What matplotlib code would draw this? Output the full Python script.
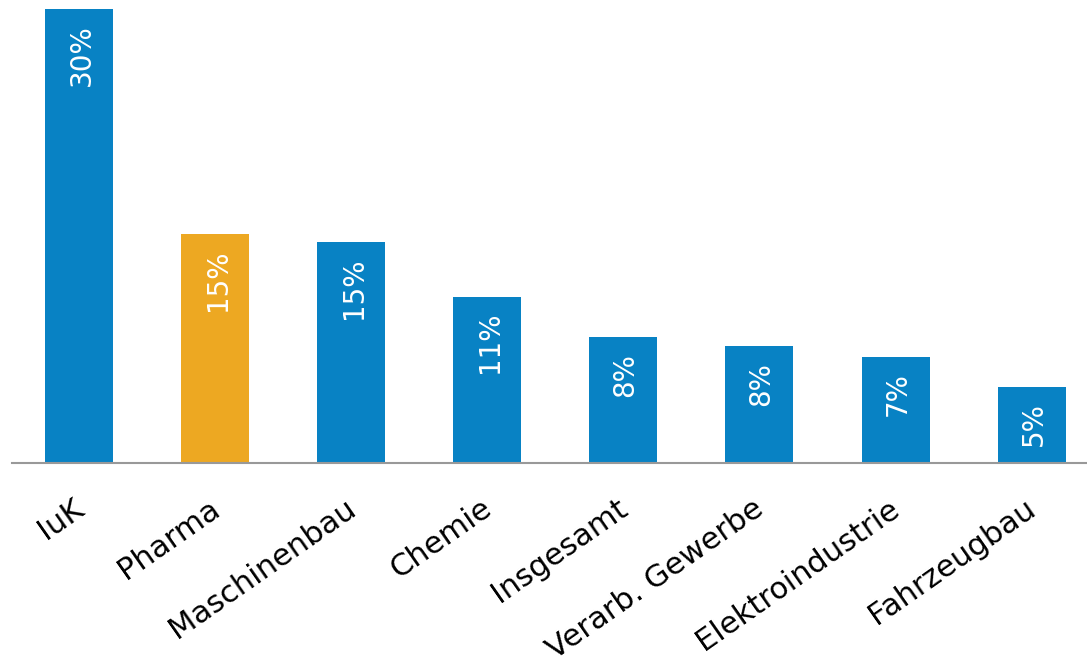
import matplotlib.pyplot as plt
import matplotlib.transforms as mtransforms
import numpy as np

# Anteile je Branche in Prozent
branchen = ["IuK", "Pharma", "Maschinenbau", "Chemie", "Insgesamt",
            "Verarb. Gewerbe", "Elektroindustrie", "Fahrzeugbau"]
anteile = [30.0, 15.1, 14.6, 11.0, 8.3, 7.7, 7.0, 5.0]
farben = ["#0882c4", "#eda822", "#0882c4", "#0882c4", "#0882c4",
          "#0882c4", "#0882c4", "#0882c4"]

fig = plt.figure(figsize=(10.87, 6.6), dpi=100)
ax = fig.add_axes([12 / 1087, 1 - 463 / 660, 1 - 12 / 1087, (463 - 9) / 660])

x = np.arange(len(branchen))
balken = ax.bar(x, anteile, width=0.5, color=farben, zorder=2)

# Werte senkrecht oben in den Balken schreiben
for xi, wert in zip(x, anteile):
    ax.annotate(f"{wert:.0f}%", xy=(xi, wert), xytext=(1.5, -11),
                textcoords="offset points", rotation=90,
                ha="center", va="top", color="white", fontsize=20)

ax.set_xlim(-0.496, 7.408)
ax.set_ylim(0, 30)
ax.set_xticks(x)
ax.set_xticklabels(branchen, rotation=35, ha="right", rotation_mode="anchor",
                   fontsize=22)
ax.tick_params(axis="x", length=0, pad=22)
ax.set_yticks([])

# Beschriftungen etwas nach links schieben
verschiebung = mtransforms.ScaledTranslation(-7 / 100, 0, fig.dpi_scale_trans)
for lab in ax.get_xticklabels():
    lab.set_transform(lab.get_transform() + verschiebung)

for side in ["top", "right", "left"]:
    ax.spines[side].set_visible(False)
ax.spines["bottom"].set_color("#999999")
ax.spines["bottom"].set_linewidth(1.5)

fig.savefig("out.png", dpi=100)
